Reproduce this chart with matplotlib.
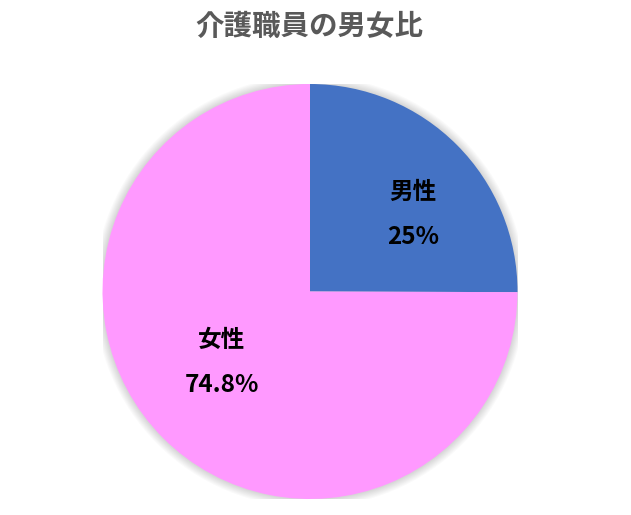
import matplotlib.pyplot as plt
from matplotlib.patches import Circle

plt.rcParams['font.family'] = ['Noto Sans CJK JP', 'DejaVu Sans']

# data
labels = ['男性', '女性']
values = [25, 74.8]
pct_text = ['25%', '74.8%']
colors = ['#4472C4', '#FF99FF']

W, H = 631, 515
fig = plt.figure(figsize=(W / 100, H / 100), dpi=100)

cx, cy, r = 310, 291.5, 207.5
ax = fig.add_axes([(cx - r) / W, (H - cy - r) / H, 2 * r / W, 2 * r / H])

# soft shadow around the pie
for i in range(8):
    ax.add_patch(Circle((0, 0), 1.0 + 0.005 * (i + 1), color='#000000',
                        alpha=0.02, lw=0, zorder=0))

wedges, _ = ax.pie(values, colors=colors, startangle=90, counterclock=False,
                   radius=1.0, wedgeprops=dict(linewidth=0))
for w in wedges:
    w.set_zorder(2)

# label positions (in pie radius units)
name_pos = [(0.496, 0.48), (-0.424, -0.234)]
pct_pos = [(0.496, 0.263), (-0.424, -0.451)]
for i in range(len(labels)):
    ax.text(name_pos[i][0], name_pos[i][1], labels[i], ha='center', va='center',
            fontsize=17, fontweight='bold', color='black', zorder=5)
    ax.text(pct_pos[i][0], pct_pos[i][1], pct_text[i], ha='center', va='center',
            fontsize=17.5, fontweight='bold', color='black', zorder=5)

ax.set_xlim(-1, 1)
ax.set_ylim(-1, 1)
ax.set_aspect('equal')
ax.axis('off')

fig.text(309 / W, 1 - 27 / H, '介護職員の男女比', ha='center', va='center',
         fontsize=20.5, fontweight='bold', color='#595959')

fig.savefig('out.png', dpi=100)
